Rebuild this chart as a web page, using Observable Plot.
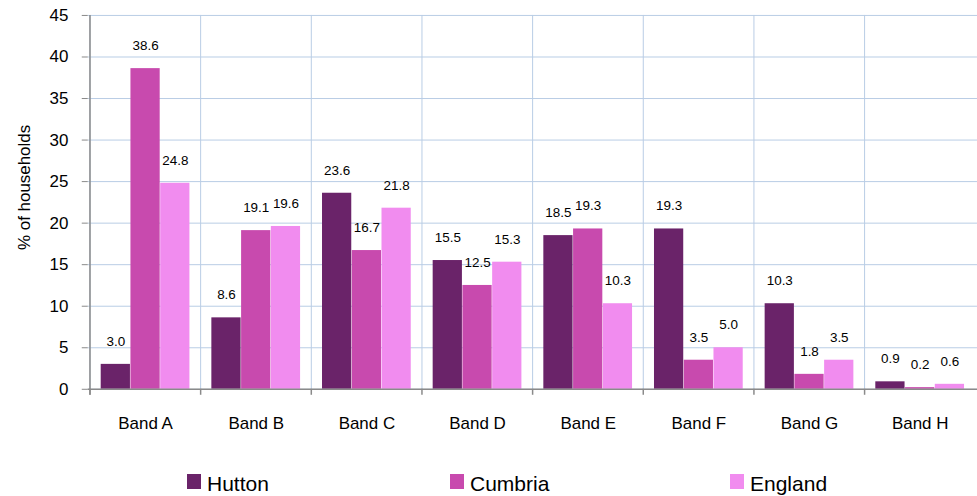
<!DOCTYPE html>
<html>
<head>
<meta charset="utf-8">
<script src="https://cdn.jsdelivr.net/npm/d3@7"></script>
<script src="https://cdn.jsdelivr.net/npm/@observablehq/plot@0.6"></script>
<style>
  html, body { margin: 0; padding: 0; background: #fff; overflow: hidden; }
  body { width: 977px; height: 496px; position: relative; font-family: "Liberation Sans", Arial, sans-serif; }
  #chart { position: absolute; left: 0; top: 0; }
  .leg { position: absolute; top: 473px; height: 21px; line-height: 21px; font-size: 21px; color: #000; white-space: nowrap; }
  .leg .sw { position: absolute; left: 0; top: 1px; width: 14px; height: 15px; }
  .leg .tx { position: absolute; left: 20px; top: 0; }
</style>
</head>
<body>
<div id="chart"></div>
<div id="legend"></div>
<script>
const bands = ["Band A", "Band B", "Band C", "Band D", "Band E", "Band F", "Band G", "Band H"];
const seriesNames = ["Hutton", "Cumbria", "England"];
const hutton  = [3.0, 8.6, 23.6, 15.5, 18.5, 19.3, 10.3, 0.9];
const cumbria = [38.6, 19.1, 16.7, 12.5, 19.3, 3.5, 1.8, 0.2];
const england = [24.8, 19.6, 21.8, 15.3, 10.3, 5.0, 3.5, 0.6];
const yTicks = [0, 5, 10, 15, 20, 25, 30, 35, 40, 45];
const colors = ["#6a2369", "#c84aae", "#f18cef"];

const seriesValues = [hutton, cumbria, england];

const width = 980, marginLeft = 88, marginRight = 0, marginTop = 15, marginBottom = 46;
const height = 436;
const step = (width - marginLeft - marginRight) / bands.length;
const pad = 11;
const bw = (step - 2 * pad) / 3;
const gridColor = "#b9cde5";
const axisColor = "#8a8a8a";

const marks = [
  Plot.gridY(yTicks, {stroke: gridColor, strokeOpacity: 1, strokeWidth: 1}),
  Plot.ruleX(bands, {x: d => d, dx: -step / 2, stroke: gridColor, strokeWidth: 1})
];

seriesValues.forEach((vals, i) => {
  const data = bands.map((b, j) => ({band: b, value: vals[j]}));
  marks.push(Plot.barY(data, {
    x: "band", y: "value", fill: colors[i],
    insetLeft: pad + i * bw,
    insetRight: step - pad - (i + 1) * bw
  }));
  marks.push(Plot.text(data, {
    x: "band", y: "value", text: d => d3.format(".1f")(d.value),
    dx: -step / 2 + pad + (i + 0.5) * bw, dy: -23,
    fontSize: 13.5, fill: "#000"
  }));
});

marks.push(
  Plot.ruleY([0], {stroke: axisColor, strokeWidth: 1.5}),
  Plot.ruleX([bands[0]], {x: d => d, dx: -step / 2, stroke: axisColor, strokeWidth: 1.5, insetBottom: -6}),
  Plot.ruleX(bands, {x: d => d, y1: 0, y2: 0, dx: -step / 2, insetBottom: -6, stroke: axisColor, strokeWidth: 1.5}),
  Plot.axisY({ticks: yTicks, tickSize: 6, tickPadding: 14, stroke: axisColor, fill: "#000", fontSize: 17, label: null}),
  Plot.axisX({tickSize: 0, tickPadding: 28, fontSize: 17, fill: "#000", label: null}),
  Plot.text(["% of households"], {frameAnchor: "left", textAnchor: "middle", rotate: -90, dx: -63.5, dy: -15, fontSize: 17, fill: "#000"})
);

const chart = Plot.plot({
  width, height, marginLeft, marginRight, marginTop, marginBottom,
  style: {fontFamily: '"Liberation Sans", Arial, sans-serif', background: "#fff", color: "#000", overflow: "visible"},
  x: {domain: bands, paddingInner: 0, paddingOuter: 0, axis: null},
  y: {domain: [0, 45], axis: null},
  marks
});
document.getElementById("chart").appendChild(chart);

const legendLefts = [187, 450, 730];
const legend = document.getElementById("legend");
seriesNames.forEach((name, i) => {
  const item = document.createElement("div");
  item.className = "leg";
  item.style.left = legendLefts[i] + "px";
  const sw = document.createElement("span");
  sw.className = "sw";
  sw.style.background = colors[i];
  const tx = document.createElement("span");
  tx.className = "tx";
  tx.textContent = name;
  item.appendChild(sw);
  item.appendChild(tx);
  legend.appendChild(item);
});
</script>
</body>
</html>
